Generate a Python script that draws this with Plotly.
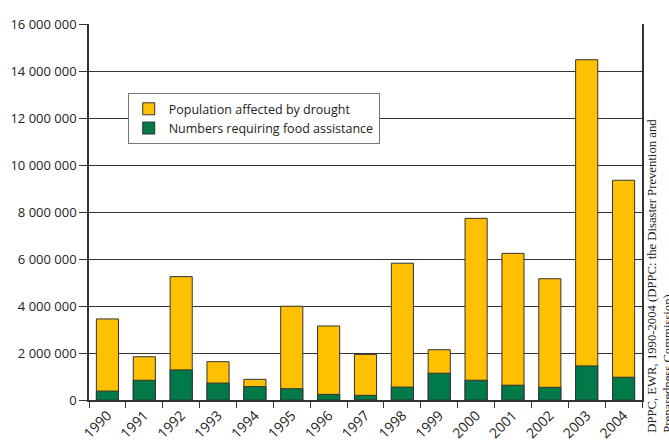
import plotly.graph_objects as go

years = ["1990", "1991", "1992", "1993", "1994", "1995", "1996", "1997",
         "1998", "1999", "2000", "2001", "2002", "2003", "2004"]
affected = [3450000, 1840000, 5250000, 1630000, 880000, 3990000, 3150000, 1940000,
            5820000, 2140000, 7730000, 6240000, 5160000, 14480000, 9350000]
food_assistance = [380000, 840000, 1280000, 720000, 570000, 480000, 240000, 200000,
                   550000, 1140000, 840000, 630000, 540000, 1450000, 970000]
y_ticks = [0, 2000000, 4000000, 6000000, 8000000, 10000000, 12000000, 14000000, 16000000]

fig = go.Figure()
fig.add_trace(go.Bar(
    x=years, y=affected, name="Population affected by drought",
    marker=dict(color="#FFC000", line=dict(color="#333333", width=1)),
))
fig.add_trace(go.Bar(
    x=years, y=food_assistance, name="Numbers requiring food assistance",
    marker=dict(color="#007A48", line=dict(color="#333333", width=1)),
))

fig.update_layout(
    width=669, height=443,
    margin=dict(l=89, r=27, t=24, b=43),
    barmode="overlay", bargap=0.4,
    plot_bgcolor="white", paper_bgcolor="white",
    separators=". ",
    font=dict(family="Open Sans", size=14, color="#222222"),
    legend=dict(
        x=0.07, y=0.816, xanchor="left", yanchor="top",
        bgcolor="white", bordercolor="#777777", borderwidth=1,
        font=dict(family="Open Sans", size=12.5, color="#222222"),
        traceorder="normal", itemwidth=30, tracegroupgap=2,
    ),
    showlegend=True,
)

fig.update_xaxes(
    type="category", tickangle=-45, tickson="boundaries",
    ticks="outside", ticklen=6, tickcolor="#333333",
    showline=True, linecolor="#333333", linewidth=1.5,
    showgrid=False, automargin=False,
    tickfont=dict(size=14),
)
fig.update_yaxes(
    range=[0, 16000000], tickvals=y_ticks, tickformat=",d",
    ticks="outside", ticklen=8, tickcolor="#333333",
    showline=True, linecolor="#333333", linewidth=1.5, mirror=True,
    showgrid=True, gridcolor="#333333", gridwidth=1,
    zeroline=False, automargin=False,
    tickfont=dict(size=13),
)

fig.add_annotation(
    xref="paper", yref="paper", x=1.034, y=0.33,
    xanchor="center", yanchor="middle",
    text="DPPC, EWR, 1990-2004 (DPPC: the Disaster Prevention and<br>Preparedness Commission)",
    textangle=-90, align="left", showarrow=False,
    font=dict(family="Liberation Serif", size=12.7, color="#222222"),
)

fig.write_html("out.html")
